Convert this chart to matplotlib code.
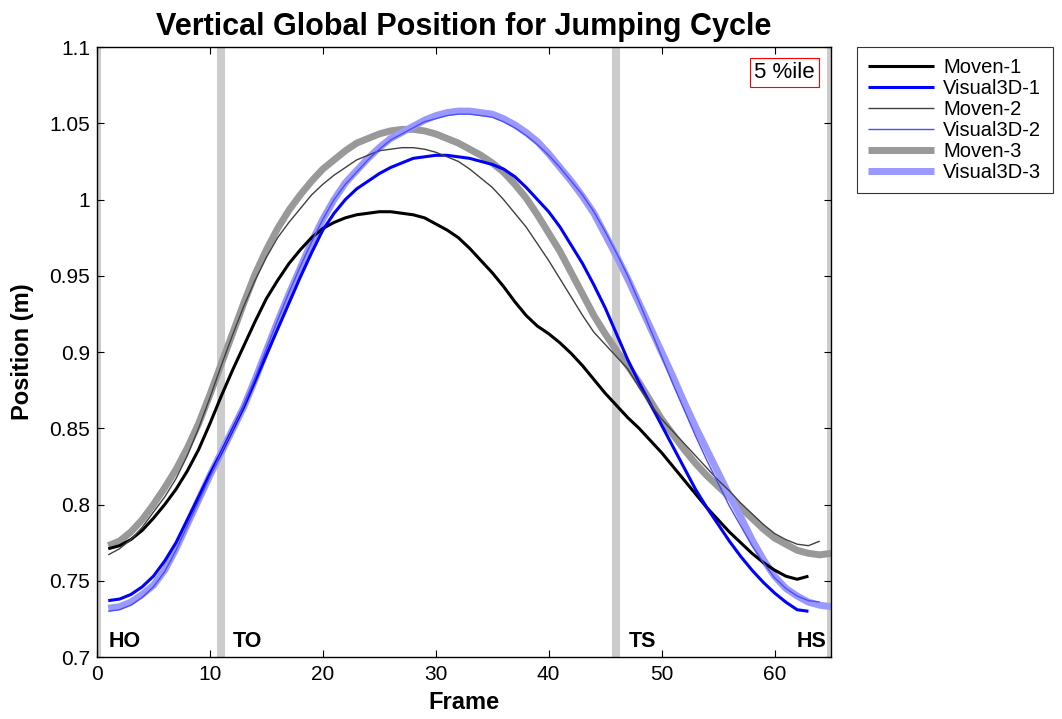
import matplotlib
matplotlib.use("Agg")
import matplotlib.pyplot as plt
import numpy as np

plt.rcParams['font.family'] = ['Liberation Sans', 'DejaVu Sans']

# data (position in m, per frame)
moven1 = [0.771, 0.773, 0.777, 0.783, 0.791, 0.800, 0.810, 0.822, 0.836, 0.853,
          0.871, 0.888, 0.904, 0.920, 0.935, 0.947, 0.958, 0.967, 0.975, 0.981,
          0.985, 0.988, 0.990, 0.991, 0.992, 0.992, 0.991, 0.990, 0.988, 0.984,
          0.980, 0.975, 0.968, 0.960, 0.952, 0.943, 0.933, 0.924, 0.917, 0.912,
          0.906, 0.899, 0.891, 0.882, 0.873, 0.865, 0.857, 0.850, 0.842, 0.834,
          0.825, 0.816, 0.807, 0.798, 0.790, 0.782, 0.775, 0.768, 0.762, 0.757,
          0.753, 0.751, 0.753]
visual1 = [0.737, 0.738, 0.741, 0.746, 0.753, 0.763, 0.775, 0.790, 0.805, 0.820,
           0.834, 0.849, 0.864, 0.881, 0.898, 0.915, 0.932, 0.949, 0.965, 0.980,
           0.991, 1.000, 1.007, 1.012, 1.017, 1.021, 1.024, 1.027, 1.028, 1.029,
           1.029, 1.028, 1.027, 1.025, 1.023, 1.020, 1.015, 1.008, 1.000, 0.992,
           0.982, 0.970, 0.958, 0.944, 0.929, 0.912, 0.895, 0.880, 0.866, 0.852,
           0.838, 0.824, 0.810, 0.798, 0.787, 0.776, 0.766, 0.757, 0.749, 0.742,
           0.736, 0.731, 0.730]
moven2 = [0.767, 0.771, 0.777, 0.785, 0.795, 0.805, 0.817, 0.832, 0.850, 0.870,
          0.891, 0.911, 0.930, 0.947, 0.962, 0.975, 0.985, 0.994, 1.003, 1.010,
          1.016, 1.021, 1.026, 1.029, 1.032, 1.033, 1.034, 1.034, 1.033, 1.031,
          1.028, 1.025, 1.020, 1.014, 1.008, 1.000, 0.991, 0.982, 0.971, 0.960,
          0.948, 0.936, 0.924, 0.913, 0.905, 0.897, 0.889, 0.877, 0.866, 0.856,
          0.848, 0.840, 0.832, 0.824, 0.816, 0.809, 0.801, 0.794, 0.787, 0.781,
          0.777, 0.774, 0.773, 0.776]
visual2 = [0.730, 0.731, 0.734, 0.739, 0.746, 0.756, 0.770, 0.786, 0.802, 0.818,
           0.834, 0.849, 0.865, 0.883, 0.902, 0.921, 0.939, 0.956, 0.972, 0.987,
           1.000, 1.010, 1.018, 1.026, 1.033, 1.039, 1.043, 1.047, 1.051, 1.053,
           1.055, 1.056, 1.056, 1.055, 1.054, 1.051, 1.047, 1.042, 1.036, 1.029,
           1.021, 1.012, 1.003, 0.992, 0.979, 0.965, 0.950, 0.933, 0.915, 0.897,
           0.879, 0.862, 0.845, 0.829, 0.814, 0.799, 0.786, 0.773, 0.762, 0.752,
           0.745, 0.740, 0.737, 0.736]
moven3 = [0.773, 0.776, 0.782, 0.790, 0.800, 0.811, 0.823, 0.837, 0.853, 0.872,
          0.892, 0.912, 0.932, 0.951, 0.967, 0.981, 0.993, 1.003, 1.012, 1.020,
          1.026, 1.032, 1.037, 1.040, 1.043, 1.045, 1.046, 1.046, 1.045, 1.043,
          1.040, 1.037, 1.033, 1.029, 1.024, 1.018, 1.010, 1.001, 0.990, 0.978,
          0.966, 0.952, 0.938, 0.924, 0.912, 0.901, 0.891, 0.880, 0.868, 0.856,
          0.846, 0.836, 0.827, 0.819, 0.812, 0.805, 0.798, 0.791, 0.784, 0.778,
          0.774, 0.770, 0.768, 0.767, 0.768]
visual3 = [0.732, 0.733, 0.736, 0.741, 0.747, 0.757, 0.771, 0.787, 0.803, 0.819,
           0.834, 0.849, 0.864, 0.882, 0.901, 0.920, 0.938, 0.955, 0.972, 0.987,
           1.000, 1.011, 1.019, 1.027, 1.034, 1.040, 1.044, 1.048, 1.052, 1.055,
           1.057, 1.058, 1.058, 1.057, 1.056, 1.053, 1.049, 1.044, 1.038, 1.030,
           1.021, 1.012, 1.002, 0.991, 0.977, 0.963, 0.948, 0.932, 0.916, 0.900,
           0.884, 0.867, 0.851, 0.836, 0.821, 0.806, 0.792, 0.777, 0.764, 0.753,
           0.745, 0.740, 0.736, 0.734, 0.733]

events = [0, 11, 46, 65]
event_labels = ["HO", "TO", "TS", "HS"]

series = [
    ("Moven-1", moven1, "black", 2.2),
    ("Visual3D-1", visual1, "#0000ff", 2.2),
    ("Moven-2", moven2, "#404040", 1.0),
    ("Visual3D-2", visual2, "#4d4dff", 1.0),
    ("Moven-3", moven3, "#999999", 5.0),
    ("Visual3D-3", visual3, "#9999ff", 5.0),
]
# thick lines underneath, thin on top
zorders = {"Moven-3": 2, "Visual3D-3": 3, "Moven-1": 4, "Visual3D-1": 5,
           "Moven-2": 6, "Visual3D-2": 7}

fig = plt.figure(figsize=(10.62, 7.19), dpi=100)
ax = fig.add_axes([0.0913, 0.0862, 0.6912, 0.8484])

for ev in events:
    ax.axvline(ev, color="#cccccc", lw=5.8, zorder=1)

handles = []
for name, vals, col, lw in series:
    frames = np.arange(1, len(vals) + 1)
    h, = ax.plot(frames, vals, color=col, lw=lw, label=name, zorder=zorders[name],
                 solid_capstyle="butt")
    handles.append(h)

ax.set_xlim(0, 65)
ax.set_ylim(0.7, 1.1)
ax.set_xticks([0, 10, 20, 30, 40, 50, 60])
ax.set_yticks([0.7, 0.75, 0.8, 0.85, 0.9, 0.95, 1.0, 1.05, 1.1])
ax.set_yticklabels(["0.7", "0.75", "0.8", "0.85", "0.9", "0.95", "1", "1.05", "1.1"])
ax.tick_params(direction="in", top=True, right=True, length=5, labelsize=15, width=0.8)
ax.tick_params(axis="x", pad=6)
ax.tick_params(axis="y", pad=5)
for sp in ax.spines.values():
    sp.set_linewidth(1.0)
    sp.set_zorder(10)

ax.set_title("Vertical Global Position for Jumping Cycle", fontsize=22,
             fontweight="bold", pad=9)
ax.set_xlabel("Frame", fontsize=17, fontweight="bold", labelpad=5)
ax.set_ylabel("Position (m)", fontsize=17, fontweight="bold", labelpad=11)

for ev, lab in zip(events, event_labels):
    if lab == "HS":
        ax.text(ev - 0.4, 0.7066, lab, ha="right", va="baseline", fontsize=15.5,
                fontweight="bold", zorder=11)
    else:
        ax.text(ev + 1.05, 0.7066, lab, ha="left", va="baseline", fontsize=15.5,
                fontweight="bold", zorder=11)

ax.text(63.55, 1.0905, "5 %ile", ha="right", va="top", fontsize=16, zorder=11,
        bbox=dict(boxstyle="square,pad=0.18", facecolor="white", edgecolor="red", lw=0.8))

leg = ax.legend(handles=handles, loc="upper left", bbox_to_anchor=(1.035, 1.0),
                fontsize=14.5, frameon=True, fancybox=False, handlelength=3.3,
                handletextpad=0.45, borderpad=0.55, labelspacing=0.1, borderaxespad=0)
leg.get_frame().set_edgecolor("black")
leg.get_frame().set_linewidth(0.8)

fig.savefig("out.png", dpi=100)
